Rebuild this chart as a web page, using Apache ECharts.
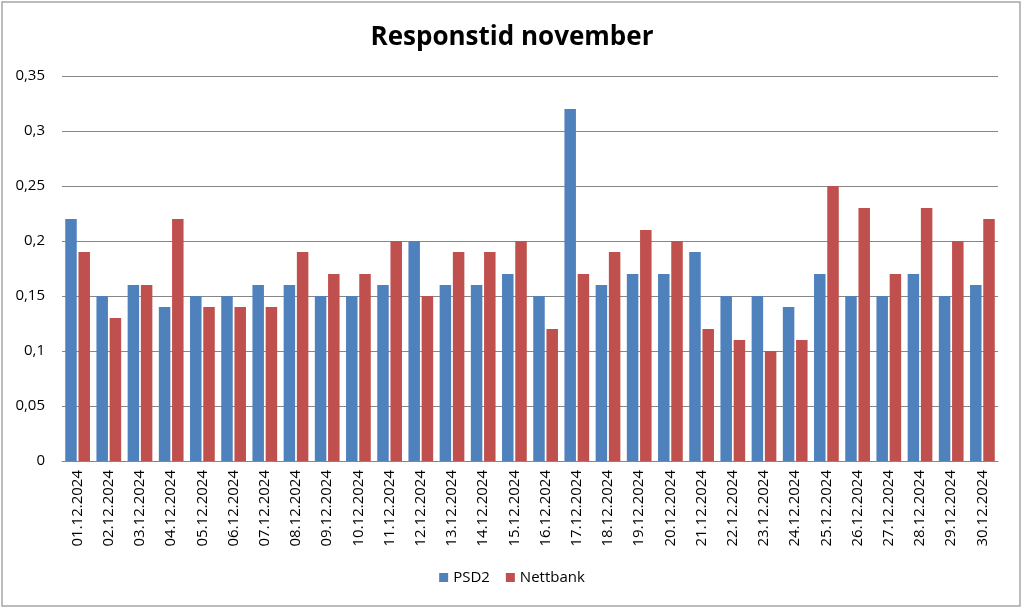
<!DOCTYPE html>
<html><head><meta charset="utf-8">
<script src="https://cdn.jsdelivr.net/npm/echarts@6/dist/echarts.min.js"></script>
<style>html,body{margin:0;padding:0;background:#fff}#c{width:1024px;height:610px}</style>
</head><body><div id="c"></div>
<script>
var categories = ['01.12.2024','02.12.2024','03.12.2024','04.12.2024','05.12.2024','06.12.2024','07.12.2024','08.12.2024','09.12.2024','10.12.2024','11.12.2024','12.12.2024','13.12.2024','14.12.2024','15.12.2024','16.12.2024','17.12.2024','18.12.2024','19.12.2024','20.12.2024','21.12.2024','22.12.2024','23.12.2024','24.12.2024','25.12.2024','26.12.2024','27.12.2024','28.12.2024','29.12.2024','30.12.2024'];
var psd2 = [0.22,0.15,0.16,0.14,0.15,0.15,0.16,0.16,0.15,0.15,0.16,0.20,0.16,0.16,0.17,0.15,0.32,0.16,0.17,0.17,0.19,0.15,0.15,0.14,0.17,0.15,0.15,0.17,0.15,0.16];
var nettbank = [0.19,0.13,0.16,0.22,0.14,0.14,0.14,0.19,0.17,0.17,0.20,0.15,0.19,0.19,0.20,0.12,0.17,0.19,0.21,0.20,0.12,0.11,0.10,0.11,0.25,0.23,0.17,0.23,0.20,0.22];
var seriesNames = ['PSD2','Nettbank'];
var titleText = 'Responstid november';

var font = '"Open Sans", "Noto Sans", sans-serif';
var chart = echarts.init(document.getElementById('c'));
chart.setOption({
  animation: false,
  textStyle: {fontFamily: font},
  title: {text: titleText, left: 'center', top: 20, textStyle: {fontSize: 26, fontWeight: 'bold', color: '#000', fontFamily: font}},
  graphic: [{type: 'rect', shape: {x: 2, y: 2, width: 1018, height: 604}, style: {fill: 'none', stroke: '#a6a6a6', lineWidth: 1.5}}],
  legend: {data: seriesNames, bottom: 20, left: 'center', itemWidth: 9, itemHeight: 9, itemGap: 16,
    textStyle: {fontSize: 15, color: '#000', fontFamily: font}, icon: 'rect'},
  grid: {left: 62, right: 26, top: 76, bottom: 149, containLabel: false},
  xAxis: {type: 'category', data: categories,
    axisLine: {lineStyle: {color: '#868686'}}, axisTick: {show: false},
    axisLabel: {rotate: 90, fontSize: 15, color: '#000', interval: 0, margin: 9}},
  yAxis: {type: 'value', min: 0, max: 0.35, interval: 0.05,
    axisLine: {show: false}, axisTick: {show: false},
    splitLine: {lineStyle: {color: '#868686'}},
    axisLabel: {fontSize: 15, color: '#000', margin: 17, formatter: function(v){return String(Math.round(v*100)/100).replace('.', ',');}}},
  series: [
    {name: seriesNames[0], type: 'bar', data: psd2, barWidth: 11.5, barGap: '15%', itemStyle: {color: '#4f81bd'}},
    {name: seriesNames[1], type: 'bar', data: nettbank, barWidth: 11.5, itemStyle: {color: '#c0504d'}}
  ]
});
</script></body></html>
